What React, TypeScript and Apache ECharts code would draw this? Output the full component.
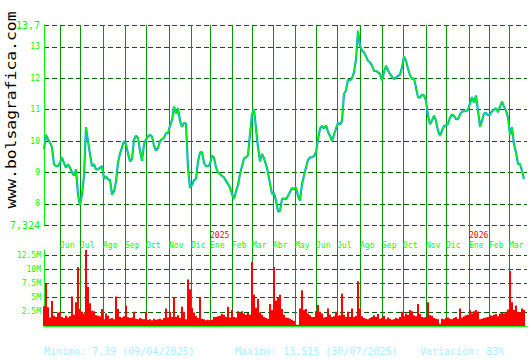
import React, { useEffect, useRef } from 'react';
import * as echarts from 'echarts';

// ---- data ----
const monthNames = ['Jun', 'Jul', 'Ago', 'Sep', 'Oct', 'Nov', 'Dic', 'Ene', 'Feb', 'Mar', 'Abr', 'May', 'Jun', 'Jul', 'Ago', 'Sep', 'Oct', 'Nov', 'Dic', 'Ene', 'Feb', 'Mar'];
// trading-day index at which each month starts
const monthStartDays = [16, 36, 59, 81, 102, 125, 147, 166, 188, 208, 229, 251, 272, 293, 316, 338, 359, 382, 402, 425, 445, 465];
const yearLabels = ['2025', '2026']; // shown at each "Ene"
const totalDays = 484;
const sampleStep = 2; // one value every two trading days

const closePrices = [
  9.74, 10.2, 10.05, 9.96, 9.8, 9.26, 9.2, 9.2,
  9.31, 9.47, 9.3, 9.15, 9.26, 9.15, 9.0,
  8.9, 9.1, 8.3, 7.95, 8.3, 8.9, 10.44,
  10.0, 9.58, 9.2, 9.26, 9.1, 9.1, 9.15,
  9.2, 8.8, 8.88, 8.77, 8.77, 8.29, 8.4,
  8.7, 9.31, 9.6, 9.8, 10.0, 9.9, 9.6,
  9.35, 9.42, 10.05, 10.17, 10.1, 9.69, 9.37,
  9.9, 10.05, 10.15, 10.2, 10.15, 9.85, 9.7,
  9.78, 10.0, 10.06, 10.1, 10.25, 10.25, 10.49,
  10.66, 11.1, 10.87, 11.05, 10.65, 10.45, 10.58,
  10.55, 9.15, 8.51, 8.6, 8.75, 8.8, 9.35,
  9.63, 9.65, 9.3, 9.2, 9.2, 9.27, 9.53,
  9.48, 9.16, 9.0, 8.95, 8.89, 8.84, 8.73,
  8.63, 8.52, 8.31, 8.15, 8.4, 8.6, 8.95,
  9.2, 9.45, 9.48, 9.55, 10.22, 10.85, 11.02,
  10.4, 9.8, 9.35, 9.59, 9.45, 9.25, 9.0,
  8.65, 8.31, 8.35, 8.1, 7.75, 7.78, 8.15,
  8.17, 8.15, 8.25, 8.38, 8.5, 8.47, 8.52,
  8.25, 8.1, 8.63, 8.9, 9.16, 9.4, 9.48,
  9.48, 9.52, 9.64, 10.05, 10.4, 10.48, 10.4,
  10.5, 10.3, 10.17, 10.0, 10.2, 10.4, 10.58,
  10.52, 10.65, 11.5, 11.61, 11.95, 11.93, 12.0,
  12.19, 12.6, 13.515, 13.04, 12.88, 12.83, 12.7,
  12.56, 12.51, 12.4, 12.24, 12.24, 12.19, 12.14,
  11.93, 12.2, 12.4, 12.25, 12.14, 12.05, 11.98,
  12.02, 12.08, 12.12, 12.35, 12.7, 12.56, 12.3,
  12.1, 11.98, 12.0, 11.7, 11.4, 11.38, 11.48,
  11.45, 11.29, 10.8, 10.54, 10.65, 10.81, 10.65,
  10.33, 10.17, 10.33, 10.48, 10.5, 10.55, 10.75,
  10.84, 10.8, 10.7, 10.7, 10.85, 10.94, 10.95,
  10.95, 11.0, 11.2, 11.4, 11.22, 11.45, 10.97,
  10.45, 10.65, 10.88, 10.9, 10.82, 10.85, 10.95,
  11.0, 11.05, 10.92, 11.1, 11.26, 11.1, 10.97,
  10.76, 10.2, 10.44, 9.9, 9.64, 9.27, 9.27,
  9.05, 8.79,
];

// volume in millions
const volumesM = [
  3.5, 7.4, 3.3, 1.5, 4.4, 1.8, 1.6, 2.4,
  2.5, 1.6, 1.4, 1.8, 1.5, 1.7, 5.2,
  2.0, 4.2, 10.4, 3.0, 2.5, 2.2, 13.4,
  6.9, 4.0, 2.7, 2.6, 1.9, 1.8, 1.7,
  3.0, 1.2, 2.2, 1.8, 1.3, 1.4, 1.2,
  5.2, 3.0, 1.6, 1.5, 1.7, 3.6, 1.6,
  1.4, 1.5, 2.5, 1.3, 1.2, 1.4, 1.3,
  1.2, 2.5, 1.1, 1.2, 1.0, 1.3, 1.1,
  1.2, 1.3, 1.1, 1.4, 3.1, 1.5, 2.5,
  1.6, 5.0, 1.6, 1.9, 1.4, 3.4, 2.5,
  1.2, 8.2, 6.5, 3.2, 2.4, 1.8, 1.4,
  5.0, 1.3, 1.2, 1.0, 1.1, 1.0, 1.1,
  1.6, 1.6, 1.7, 1.8, 2.1, 2.0, 1.6,
  3.4, 1.5, 2.8, 1.6, 1.5, 2.6, 2.3,
  2.6, 2.2, 2.0, 2.3, 2.0, 11.3, 5.5,
  3.2, 4.8, 2.4, 2.0, 1.6, 1.4, 1.3,
  3.9, 2.8, 10.4, 4.5, 5.1, 5.5, 3.0,
  2.0, 1.5, 1.4, 1.3, 1.1, 0.9, 0.2,
  0.2, 3.1, 6.3, 2.8, 3.0, 2.2, 1.9,
  1.6, 1.6, 2.6, 3.7, 2.5, 2.2, 1.5,
  1.6, 3.1, 2.0, 1.6, 1.7, 2.5, 1.8,
  1.9, 5.7, 2.0, 1.6, 2.5, 1.6, 3.1,
  1.6, 1.8, 7.9, 3.1, 1.7, 1.4, 1.3,
  1.2, 1.4, 1.6, 1.9, 1.6, 2.1, 1.3,
  1.4, 1.8, 1.2, 1.5, 1.3, 1.1, 1.2,
  1.4, 1.3, 1.6, 2.5, 1.7, 2.2, 2.0,
  2.8, 2.6, 1.9, 1.7, 3.9, 2.1, 1.6,
  1.5, 1.6, 4.2, 1.9, 1.8, 1.4, 1.3,
  1.2, 0.4, 1.3, 1.2, 1.4, 1.5, 1.3,
  1.2, 1.4, 1.6, 1.3, 3.1, 1.5, 1.7,
  1.9, 2.0, 2.8, 2.2, 2.6, 2.8, 2.5,
  1.2, 1.3, 1.4, 1.5, 1.6, 1.9, 1.8,
  2.0, 2.1, 1.7, 2.2, 2.3, 2.2, 2.5,
  2.9, 9.7, 4.2, 2.8, 3.6, 2.5, 2.4,
  3.1, 2.8,
];

const priceMin = 7.324;
const priceMax = 13.7;
const volumeMax = 13.4;
const volumeInterval = 2.5;
const statTexts = ['Minimo: 7,39 (09/04/2025)', 'Maximo: 13,515 (30/07/2025)', 'Variación: 83%'];
const siteText = 'www.bolsagrafica.com';

// ---- styles ----
const MONO = 'DejaVu Sans Mono';
const LIME = '#00ff00';
const MONTH_LINE = '#009a00';
const DASH = '#006400';
const CYAN = '#00a6c4';

export default function App() {
  const ref = useRef<HTMLDivElement>(null);

  useEffect(() => {
    if (!ref.current) return;
    const chart = echarts.init(ref.current, undefined, { renderer: 'svg' });

    const days = Array.from({ length: totalDays }, (_, i) => String(i));
    const monthAt = new Map<number, string>();
    monthStartDays.forEach((d, i) => monthAt.set(d, monthNames[i]));
    const yearAt = new Map<number, string>();
    let y = 0;
    monthStartDays.forEach((d, i) => {
      if (monthNames[i] === 'Ene') {
        yearAt.set(d, yearLabels[y]);
        y += 1;
      }
    });
    const isMonth = (idx: number) => monthAt.has(idx);
    const isYear = (idx: number) => yearAt.has(idx);

    const monthSplit = { show: true, interval: isMonth, lineStyle: { color: MONTH_LINE, width: 1 } };
    const dashed = { show: true, lineStyle: { color: DASH, width: 1, type: [5, 3] } };

    const priceData = closePrices.map((v, i) => [i * sampleStep, v]);
    const volData = volumesM.map((v, i) => [i * sampleStep, v]);

    const fmtNum = (v: number) => String(+v.toFixed(3)).replace('.', ',');

    chart.setOption({
      animation: false,
      backgroundColor: '#ffffff',
      grid: [
        { left: 44, right: 3, top: 25, height: 200 },
        { left: 44, right: 3, top: 225, height: 25 },
        { left: 44, right: 3, top: 250, height: 76 },
      ],
      xAxis: [
        {
          gridIndex: 0, type: 'category', data: days, boundaryGap: false,
          axisLine: { show: false }, axisTick: { show: false }, axisLabel: { show: false },
          splitLine: monthSplit,
        },
        {
          gridIndex: 1, type: 'category', data: days, boundaryGap: false, position: 'bottom',
          axisLine: { show: false }, axisTick: { show: false },
          axisLabel: {
            show: true, inside: true, interval: isMonth, margin: 1,
            formatter: (_v: string, idx: number) => monthAt.get(idx) || '',
            color: LIME, fontSize: 8, fontFamily: MONO, align: 'left',
          },
          splitLine: monthSplit,
        },
        {
          gridIndex: 1, type: 'category', data: days, boundaryGap: false, position: 'top',
          axisLine: { show: false }, axisTick: { show: false },
          axisLabel: {
            show: true, inside: true, interval: isYear, margin: 6,
            formatter: (_v: string, idx: number) => yearAt.get(idx) || '',
            color: '#ff0000', fontSize: 8, fontFamily: MONO, align: 'left',
          },
          splitLine: { show: false },
        },
        {
          gridIndex: 2, type: 'category', data: days, boundaryGap: false,
          axisLine: { show: true, lineStyle: { color: LIME, width: 1 } },
          axisTick: { show: false }, axisLabel: { show: false },
          splitLine: monthSplit,
        },
      ],
      yAxis: [
        {
          gridIndex: 0, type: 'value', min: priceMin, max: priceMax, splitNumber: 6,
          axisLine: { show: true, lineStyle: { color: LIME, width: 1 } },
          axisTick: { show: false },
          axisLabel: {
            margin: 4, color: LIME, fontFamily: MONO,
            formatter: (v: number) =>
              Math.abs(v - priceMin) < 1e-6 || Math.abs(v - priceMax) < 1e-6
                ? `{b|${fmtNum(v)}}`
                : `{s|${fmtNum(v)}}`,
            rich: {
              b: { fontSize: 10, color: LIME, fontFamily: MONO },
              s: { fontSize: 8, color: LIME, fontFamily: MONO },
            },
          },
          splitLine: dashed,
        },
        { gridIndex: 1, type: 'value', min: 0, max: 1, show: false },
        {
          gridIndex: 2, type: 'value', min: 0, max: volumeMax, interval: volumeInterval,
          axisLine: { show: true, lineStyle: { color: LIME, width: 1 } },
          axisTick: { show: false },
          axisLabel: {
            margin: 3, color: LIME, fontFamily: MONO, fontSize: 8,
            showMinLabel: false, showMaxLabel: false,
            formatter: (v: number) => (v <= 0 || v > 12.5 ? '' : `${v}M`),
          },
          splitLine: { ...dashed, showMinLine: false, showMaxLine: false },
        },
      ],
      series: [
        {
          type: 'line', xAxisIndex: 0, yAxisIndex: 0, data: priceData,
          symbol: 'none', silent: true, z: 3,
          lineStyle: { color: CYAN, width: 2.2 },
        },
        {
          type: 'line', xAxisIndex: 0, yAxisIndex: 0, data: priceData,
          symbol: 'none', silent: true, z: 4,
          lineStyle: { color: LIME, width: 1 },
        },
        {
          type: 'bar', xAxisIndex: 3, yAxisIndex: 2, data: volData,
          barWidth: 2, silent: true, z: 3,
          itemStyle: { color: '#ff0000' },
        },
      ],
      graphic: [
        {
          type: 'text', x: 11.5, y: 110, rotation: Math.PI / 2, scaleX: 1.17,
          style: {
            text: siteText, fill: '#000000', font: `14px "${MONO}"`,
            align: 'center', verticalAlign: 'middle',
          },
        },
        ...statTexts.map((t, i) => ({
          type: 'text', x: [44, 235, 420][i], y: 351,
          style: {
            text: t, fill: '#a6f0ff', font: `10px "${MONO}"`,
            align: 'left', verticalAlign: 'middle',
          },
        })),
      ],
    });

    return () => chart.dispose();
  }, []);

  return (
    <div
      ref={ref}
      style={{ position: 'fixed', left: 0, top: 0, width: 530, height: 360, background: '#fff' }}
    />
  );
}
